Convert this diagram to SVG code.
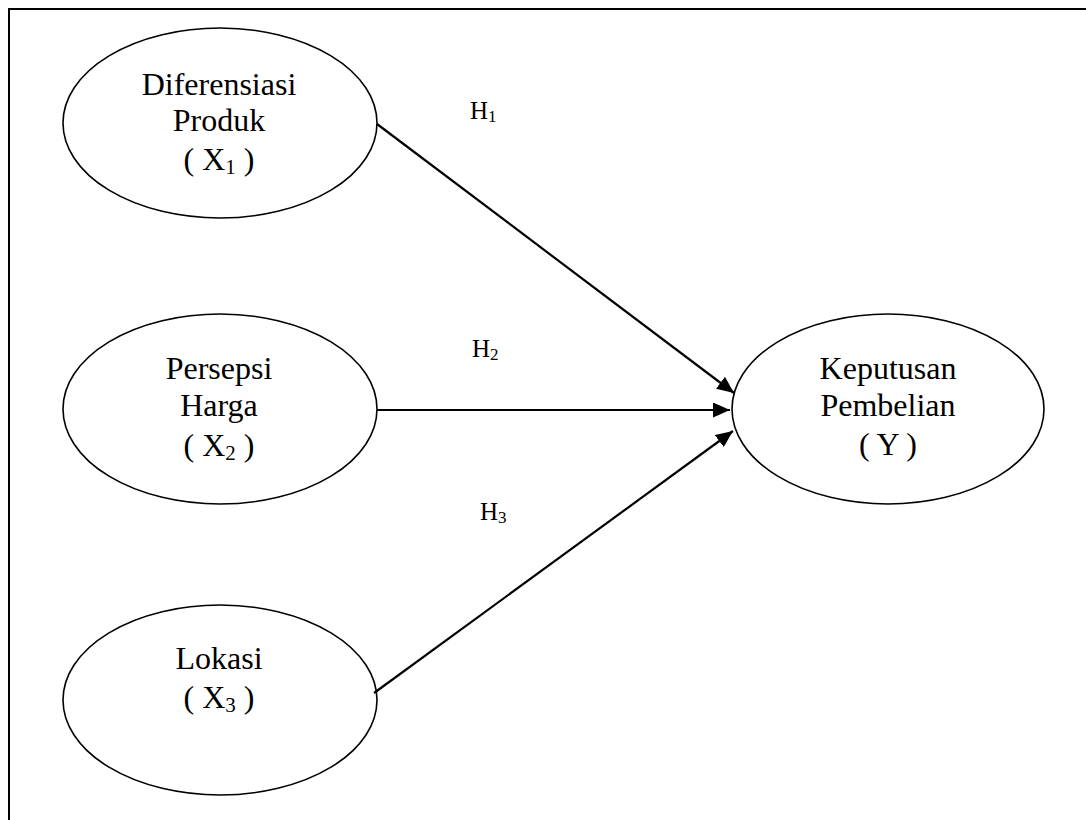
<svg xmlns="http://www.w3.org/2000/svg" width="1086" height="820" viewBox="0 0 1086 820">
<style>
.node ellipse{fill:#fff;stroke:#000;stroke-width:1.6}
.lbl{font-family:"Liberation Serif","Times New Roman",serif;font-size:32px;fill:#000;text-anchor:middle}
.sub{font-size:21px}
.h{font-family:"Liberation Serif","Times New Roman",serif;font-size:25px;fill:#000}
.hs{font-size:17px}
.conn line{stroke:#000;stroke-width:2.2}
</style>
<defs>
<marker id="arr" markerUnits="userSpaceOnUse" markerWidth="18" markerHeight="15" refX="17" refY="7.5" orient="auto">
<path d="M0,0 L17,7.5 L0,15 z" fill="#000"/>
</marker>
</defs>
<rect width="1086" height="820" fill="#fff"/>
<path d="M9,820 L9,9 L1086,9" fill="none" stroke="#000" stroke-width="2"/>
<g id="x1" class="node">
<ellipse cx="220" cy="123" rx="157" ry="95"/>
<text class="lbl" x="219" y="95">Diferensiasi</text>
<text class="lbl" x="219" y="131">Produk</text>
<text class="lbl" x="219" y="170">( X<tspan class="sub" dy="4">1</tspan><tspan dy="-4"> )</tspan></text>
</g>
<g id="x2" class="node">
<ellipse cx="220" cy="409" rx="157" ry="95"/>
<text class="lbl" x="219" y="379">Persepsi</text>
<text class="lbl" x="219" y="416">Harga</text>
<text class="lbl" x="219" y="456">( X<tspan class="sub" dy="4">2</tspan><tspan dy="-4"> )</tspan></text>
</g>
<g id="x3" class="node">
<ellipse cx="220" cy="700" rx="157" ry="95"/>
<text class="lbl" x="219" y="669">Lokasi</text>
<text class="lbl" x="219" y="708">( X<tspan class="sub" dy="4">3</tspan><tspan dy="-4"> )</tspan></text>
</g>
<g id="y" class="node">
<ellipse cx="888" cy="409" rx="156" ry="95"/>
<text class="lbl" x="888" y="379">Keputusan</text>
<text class="lbl" x="888" y="416">Pembelian</text>
<text class="lbl" x="888" y="455">( Y )</text>
</g>
<g id="connectors" class="conn">
<line x1="377" y1="124" x2="734" y2="393" marker-end="url(#arr)"/>
<line x1="377" y1="410" x2="730" y2="410" marker-end="url(#arr)"/>
<line x1="374" y1="693" x2="733" y2="431" marker-end="url(#arr)"/>
</g>
<g id="labels">
<text class="h" x="470" y="119">H<tspan class="hs" dy="3">1</tspan></text>
<text class="h" x="472" y="357">H<tspan class="hs" dy="3">2</tspan></text>
<text class="h" x="480" y="520">H<tspan class="hs" dy="3">3</tspan></text>
</g>
</svg>
